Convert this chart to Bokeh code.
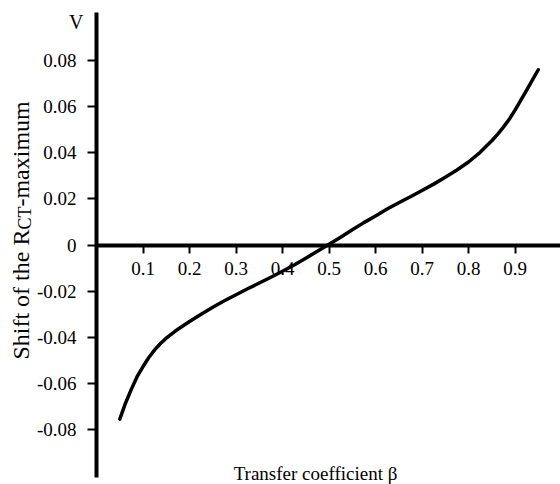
import math
from bokeh.plotting import figure
from bokeh.models import Range1d, LinearAxis, FixedTicker, Label
from bokeh.embed import file_html
from bokeh.resources import INLINE

# ---- data ----
beta = [0.05, 0.0625, 0.075, 0.0875, 0.10, 0.1125, 0.125, 0.1375, 0.15, 0.175, 0.20,
        0.225, 0.25, 0.275, 0.30, 0.325, 0.35, 0.375, 0.40, 0.425, 0.45, 0.475, 0.50,
        0.525, 0.55, 0.575, 0.60, 0.625, 0.65, 0.675, 0.70, 0.725, 0.75, 0.775, 0.80,
        0.825, 0.85, 0.8625, 0.875, 0.8875, 0.90, 0.9125, 0.925, 0.9375, 0.95]
shift = [-0.0755, -0.0685, -0.0625, -0.0570, -0.0527, -0.0488, -0.0455, -0.0427, -0.0404,
         -0.0365, -0.0332, -0.0300, -0.0270, -0.0242, -0.0216, -0.0190, -0.0165, -0.0140,
         -0.0114, -0.0087, -0.0057, -0.0027, 0.0003, 0.0034, 0.0066, 0.0097, 0.0126,
         0.0156, 0.0183, 0.0209, 0.0236, 0.0264, 0.0294, 0.0325, 0.0360, 0.0402, 0.0452,
         0.0480, 0.0511, 0.0545, 0.0585, 0.0628, 0.0672, 0.0716, 0.0760]

x_ticks = [0.1, 0.2, 0.3, 0.4, 0.5, 0.6, 0.7, 0.8, 0.9]
x_tick_labels = ["0.1", "0.2", "0.3", "0.4", "0.5", "0.6", "0.7", "0.8", "0.9"]
y_ticks = [-0.08, -0.06, -0.04, -0.02, 0.0, 0.02, 0.04, 0.06, 0.08]
y_tick_labels = ["-0.08", "-0.06", "-0.04", "-0.02", "0", "0.02", "0.04", "0.06", "0.08"]

x_title = "Transfer coefficient \u03b2"
y_title_parts = ["Shift of the R", "CT", "-maximum"]
unit_label = "V"

FONT = "Liberation Serif"

p = figure(width=560, height=484,
           x_range=Range1d(-0.2065, 0.9978), y_range=Range1d(-0.10386, 0.10603),
           x_axis_type=None, y_axis_type=None,
           min_border_left=0, min_border_right=0, min_border_top=0, min_border_bottom=0,
           output_backend="svg", toolbar_location=None)
p.outline_line_color = None
p.background_fill_color = "white"
p.border_fill_color = "white"

yaxis = LinearAxis(fixed_location=0, bounds=(-0.1008, 0.1008),
                   ticker=FixedTicker(ticks=y_ticks),
                   major_label_overrides=dict(zip(y_ticks, y_tick_labels)),
                   axis_line_width=4, axis_line_color="black",
                   major_tick_out=9, major_tick_in=0, major_tick_line_width=2,
                   minor_tick_out=0, minor_tick_in=0,
                   major_label_text_font=FONT, major_label_text_font_size="19px",
                   major_label_text_color="black", major_label_standoff=11)
p.add_layout(yaxis, "left")

xaxis = LinearAxis(fixed_location=0, bounds=(0, 0.9978),
                   ticker=FixedTicker(ticks=x_ticks),
                   major_label_overrides=dict(zip(x_ticks, x_tick_labels)),
                   axis_line_width=4, axis_line_color="black",
                   major_tick_out=8, major_tick_in=0, major_tick_line_width=2,
                   minor_tick_out=0, minor_tick_in=0,
                   major_label_text_font=FONT, major_label_text_font_size="19px",
                   major_label_text_color="black", major_label_standoff=9)
p.add_layout(xaxis, "below")

p.line(beta, shift, line_width=3.5, line_color="black", line_join="round", line_cap="round")

p.add_layout(Label(x=0, y=0.0969, x_offset=-13, text=unit_label, text_align="right",
                   text_baseline="middle", text_font=FONT, text_font_size="20px",
                   text_color="black"))
p.add_layout(Label(x=0.471, y=-0.0991, text=x_title, text_align="center",
                   text_baseline="alphabetic", text_font=FONT, text_font_size="19px",
                   text_color="black"))

# rotated y title built from three pieces (Times metrics)
big = 24
small = 18
w1 = 5.417 * big
w2 = 1.278 * small
yx, yy = -0.162, -0.0497
p.add_layout(Label(x=yx, y=yy, text=y_title_parts[0], angle=math.pi / 2,
                   text_align="left", text_baseline="alphabetic", text_font=FONT,
                   text_font_size=f"{big}px", text_color="black"))
p.add_layout(Label(x=yx, y=yy, x_offset=4, y_offset=w1, text=y_title_parts[1],
                   angle=math.pi / 2, text_align="left", text_baseline="alphabetic",
                   text_font=FONT, text_font_size=f"{small}px", text_color="black"))
p.add_layout(Label(x=yx, y=yy, y_offset=w1 + w2, text=y_title_parts[2],
                   angle=math.pi / 2, text_align="left", text_baseline="alphabetic",
                   text_font=FONT, text_font_size=f"{big}px", text_color="black"))

open("out.html", "w").write(file_html(p, INLINE))
